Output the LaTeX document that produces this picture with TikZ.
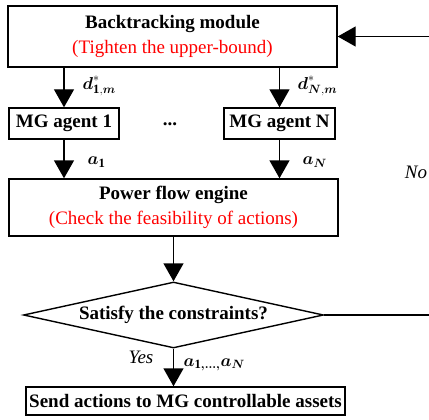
\documentclass[tikz,border=0pt]{standalone}
\usepackage{amsmath}
\usepackage{fontspec}
\setmainfont{Liberation Serif}
\usetikzlibrary{arrows.meta,shapes.geometric}

\begin{document}
\begin{tikzpicture}[x=1pt,y=-1pt,line width=1.4pt,
        box/.style={draw,rectangle,inner sep=0pt,align=center,font=\fontsize{19}{25}\selectfont\bfseries},
        decide/.style={draw,diamond,inner sep=0pt,aspect=4.5,minimum width=300pt,minimum height=66pt,font=\fontsize{19}{23}\selectfont\bfseries},
        arr/.style={-{Triangle[width=20pt,length=18pt]}},
        lbl/.style={anchor=west,inner sep=0pt,font=\fontsize{18}{20}\selectfont},
        note/.style={inner sep=0pt,font=\fontsize{19}{23}\selectfont\itshape}]
        \useasboundingbox (0,0) rectangle (429,420);
        \clip (0,0) rectangle (429,420);
        \node[box,minimum width=329pt,minimum height=61pt] (back) at (172.5,36.5) {Backtracking module\\{\color{red}\mdseries(Tighten the upper-bound)}};
        \node[box,minimum width=110pt,minimum height=31pt] (agent1) at (64,123.5) {MG agent 1};
        \node[box,minimum width=111pt,minimum height=31pt] (agentN) at (279.5,123.5) {MG agent N};
        \node[inner sep=0pt,font=\fontsize{19}{23}\selectfont\bfseries] (dots) at (170,124) {...};
        \node[box,minimum width=329pt,minimum height=57pt] (power) at (173.5,207.5) {Power flow engine\\{\color{red}\mdseries(Check the feasibility of actions)}};
        \node[decide] (cond) at (173.5,315) {Satisfy the constraints?};
        \node[box,minimum width=319pt,minimum height=28pt] (send) at (185.5,401) {Send actions to MG controllable assets};
        \coordinate (fb) at (445,0);
        % arrows
        \draw[arr] (agent1 |- back.south) -- (agent1.north);
        \draw[arr] (agentN |- back.south) -- (agentN.north);
        \draw[arr] (agent1.south) -- (agent1 |- power.north);
        \draw[arr] (agentN.south) -- (agentN |- power.north);
        \draw[arr] (power.south) -- (cond.north);
        \draw[arr] (cond.south) -- (cond.south |- send.north);
        \draw[arr] (cond.east) -- (cond.east -| fb) -- (fb |- back.east) -- (back.east);
        % labels
        \node[lbl] (d1) at (82,86) {$\boldsymbol{d}^{*}_{\mathbf{1},\boldsymbol{m}}$};
        \node[lbl] (dN) at (297,86) {$\boldsymbol{d}^{*}_{\boldsymbol{N},\boldsymbol{m}}$};
        \node[lbl] (a1) at (87,162) {$\boldsymbol{a}_{\mathbf{1}}$};
        \node[lbl] (aN) at (302,162) {$\boldsymbol{a}_{\boldsymbol{N}}$};
        \node[lbl] (aall) at (183,365) {$\boldsymbol{a}_{\mathbf{1}\boldsymbol{,}\boldsymbol{\ldots}\boldsymbol{,}}\boldsymbol{a}_{\boldsymbol{N}}$};
        \node[note] (yes) at (141,357) {Yes};
        \node[note] (no) at (416,172) {No};
    \end{tikzpicture}
\end{document}
